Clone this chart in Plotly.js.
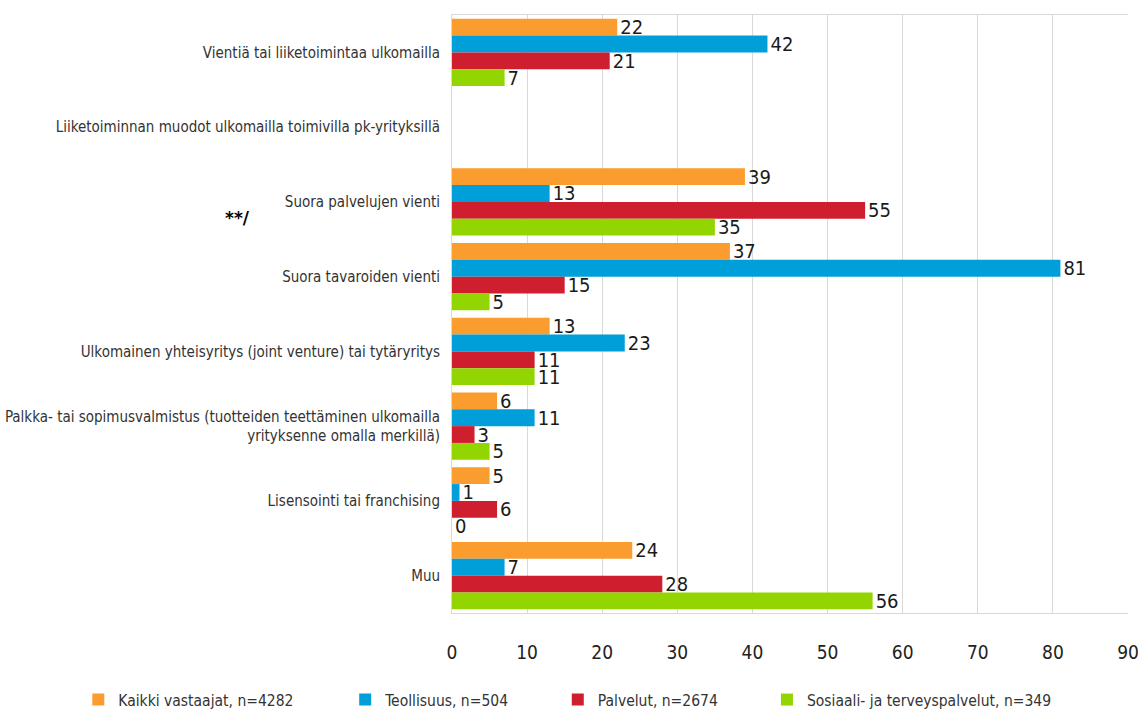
<!DOCTYPE html>
<html>
<head>
<meta charset="utf-8">
<script src="https://cdn.plot.ly/plotly-3.0.1.min.js"></script>
<style>html,body{margin:0;padding:0;background:#fff;}#chart{width:1143px;height:717px;}</style>
</head>
<body>
<div id="chart"></div>
<script>
const categories = [
  "Vientiä tai liiketoimintaa ulkomailla",
  "Liiketoiminnan muodot ulkomailla toimivilla pk-yrityksillä",
  "Suora palvelujen vienti",
  "Suora tavaroiden vienti",
  "Ulkomainen yhteisyritys (joint venture) tai tytäryritys",
  "Palkka- tai sopimusvalmistus (tuotteiden teettäminen ulkomailla<br>yrityksenne omalla merkillä)",
  "Lisensointi tai franchising",
  "Muu"
];
const seriesNames = ["Kaikki vastaajat, n=4282", "Teollisuus, n=504", "Palvelut, n=2674", "Sosiaali- ja terveyspalvelut, n=349"];
const kaikki     = [22, null, 39, 37, 13, 6, 5, 24];
const teollisuus = [42, null, 13, 81, 23, 11, 1, 7];
const palvelut   = [21, null, 55, 15, 11, 3, 6, 28];
const sosiaali   = [7, null, 35, 5, 11, 5, 0, 56];
const xTicks = [0, 10, 20, 30, 40, 50, 60, 70, 80, 90];
const colors = ["#FA9D2E", "#009FD9", "#CF1F2E", "#93D500"];

const cond = "'DejaVu Sans Condensed', 'DejaVu Sans', sans-serif";
const all = [kaikki, teollisuus, palvelut, sosiaali];
const legendIds = ["legend", "legend2", "legend3", "legend4"];
const traces = all.map((vals, i) => ({
  type: "bar",
  orientation: "h",
  name: seriesNames[i],
  legend: legendIds[i],
  y: categories,
  x: vals,
  marker: {color: colors[i]},
  text: vals.map(v => v === null ? "" : String(v)),
  textposition: "outside",
  constraintext: "none",
  cliponaxis: false,
  textfont: {family: cond, size: 20, color: "#1a1a1a"},
  hoverinfo: "x+name"
}));

// legend left edges (fraction of the figure width) for each series
const legendX = [0.0685, 0.302, 0.488, 0.671];
function legendDef(x) {
  return {
    orientation: "h",
    x: x,
    xref: "container",
    xanchor: "left",
    y: 0,
    yref: "container",
    yanchor: "bottom",
    font: {family: cond, size: 15.5, color: "#333333"},
    itemwidth: 30,
    bgcolor: "rgba(0,0,0,0)"
  };
}

const layout = {
  width: 1143,
  height: 717,
  margin: {l: 452, r: 15, t: 15, b: 104},
  barmode: "group",
  bargap: 0.1,
  bargroupgap: 0,
  paper_bgcolor: "#ffffff",
  plot_bgcolor: "#ffffff",
  font: {family: cond, color: "#333333"},
  xaxis: {
    range: [0, 90],
    tickvals: xTicks,
    ticktext: xTicks.map(String),
    showgrid: true,
    gridcolor: "#d9d9d9",
    gridwidth: 1,
    zeroline: false,
    showline: true,
    linecolor: "#d9d9d9",
    mirror: true,
    ticks: "",
    automargin: false,
    tickfont: {family: cond, size: 19, color: "#222222"},
    ticklabelstandoff: 22
  },
  yaxis: {
    type: "category",
    autorange: "reversed",
    showgrid: false,
    zeroline: false,
    showline: true,
    linecolor: "#d9d9d9",
    ticks: "",
    automargin: false,
    ticklabelstandoff: 8,
    tickfont: {family: cond, size: 15, color: "#333333"}
  },
  showlegend: true,
  legend: legendDef(legendX[0]),
  legend2: legendDef(legendX[1]),
  legend3: legendDef(legendX[2]),
  legend4: legendDef(legendX[3]),
  annotations: [{
    text: "<b>**/</b>",
    xref: "paper", yref: "paper",
    x: -0.318, y: 0.66,
    xanchor: "center", yanchor: "middle",
    showarrow: false,
    font: {family: "'DejaVu Sans', sans-serif", size: 17, color: "#000000"}
  }]
};

Plotly.newPlot("chart", traces, layout, {displayModeBar: false, staticPlot: true});
</script>
</body>
</html>
